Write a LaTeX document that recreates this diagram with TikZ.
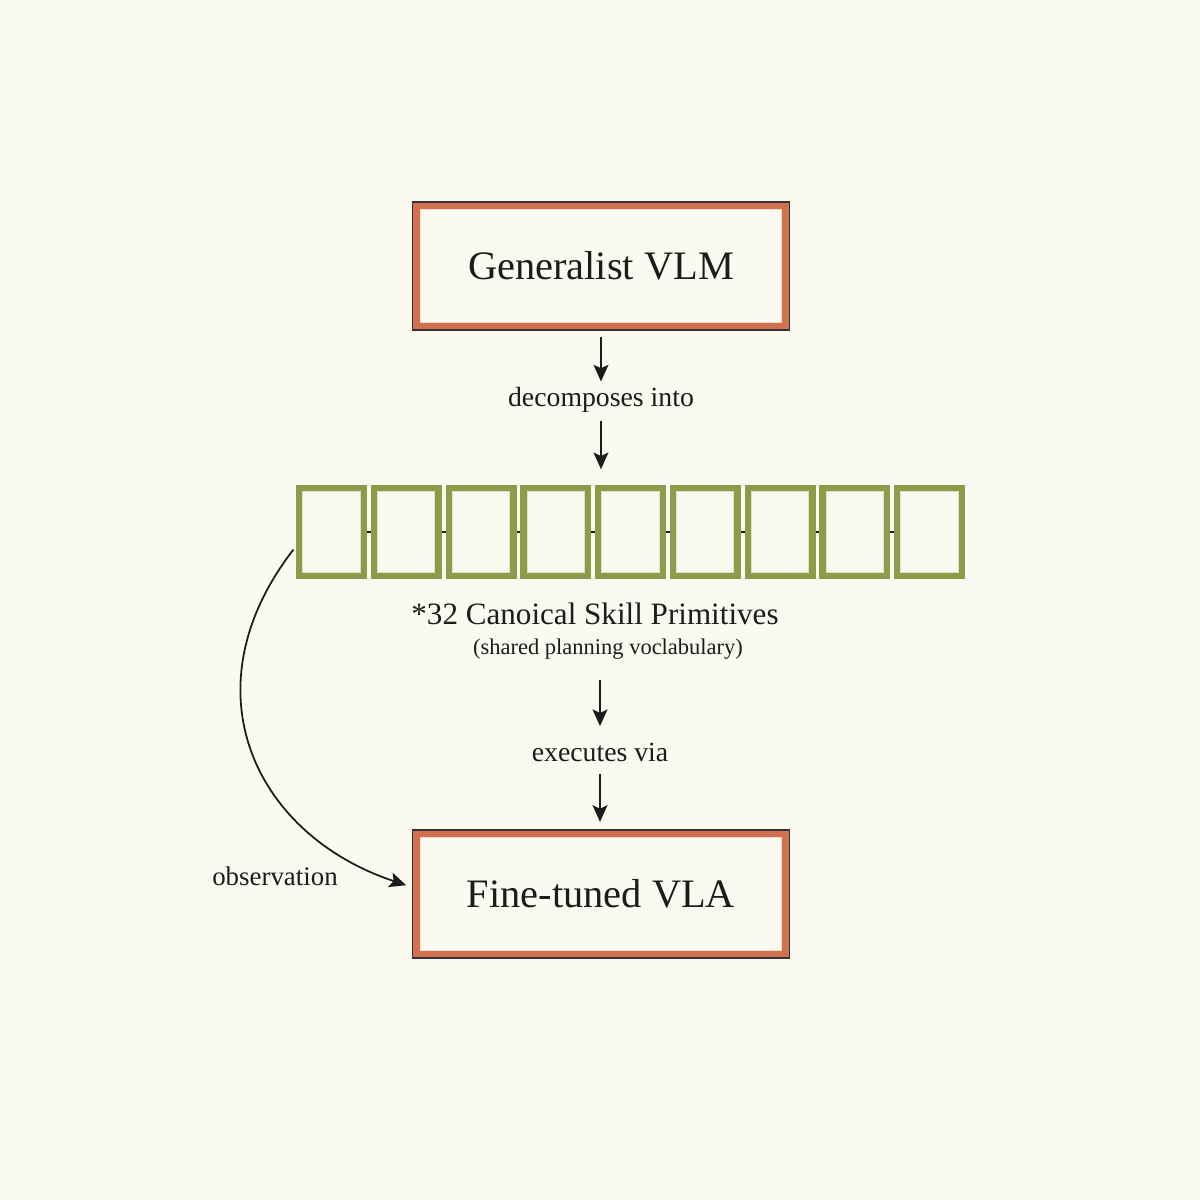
\documentclass[tikz,border=0pt]{standalone}
\usepackage{fontspec}
\setmainfont{Liberation Serif}
\usetikzlibrary{arrows.meta}
\definecolor{bgc}{HTML}{FBFAF0}
\definecolor{boxor}{HTML}{D2714F}
\definecolor{boxin}{HTML}{F3DCCF}
\definecolor{cellg}{HTML}{8E9B4A}
\definecolor{cellin}{HTML}{DDE3BE}
\definecolor{ink}{HTML}{1C1C1C}
\tikzset{
  bigbox/.style={draw=boxor, line width=3.8pt, fill=bgc, minimum width=7.38cm, minimum height=2.40cm, inner sep=0pt, font=\fontsize{23}{27}\selectfont, text=ink},
  outline/.style={draw=ink!90, line width=0.9pt},
  inline/.style={draw=boxin, line width=0.6pt},
  cell/.style={draw=cellg, line width=3.7pt, fill=bgc, minimum width=1.29cm, minimum height=1.75cm, inner sep=0pt},
  cellline/.style={draw=cellin, line width=0.5pt},
  link/.style={draw=ink, line width=1.6pt},
  lbl/.style={inner sep=0pt, text=ink, font=\fontsize{15.8}{19}\selectfont},
  arr/.style={draw=ink, line width=1pt, -{Stealth[length=9.5pt,width=8.5pt,inset=2pt]}},
}
\begin{document}
\begin{tikzpicture}[x=0.02cm, y=-0.02cm]
\fill[bgc] (0,0) rectangle (1200,1200);
\useasboundingbox (0,0) rectangle (1200,1200);

% main boxes
\node[bigbox] (vlm) at (601,266) {Generalist VLM};
\node[bigbox] (vla) at (601,894) {Fine-tuned VLA};
\foreach \b in {vlm,vla}{
  \draw[outline] ([shift={(-0.4pt,0.4pt)}]\b.north west) rectangle ([shift={(0.4pt,-0.4pt)}]\b.south east);
  \draw[inline] ([shift={(4pt,-4pt)}]\b.north west) rectangle ([shift={(-4pt,4pt)}]\b.south east);
}

% skill cells
\foreach \i in {1,...,9}{
  \node[cell] (c\i) at ({331.5+74.75*(\i-1)},532) {};
  \draw[cellline] ([shift={(3.9pt,-3.9pt)}]c\i.north west) rectangle ([shift={(-3.9pt,3.9pt)}]c\i.south east);
}
\foreach \i [evaluate=\i as \j using int(\i+1)] in {1,...,8}{
  \draw[link] (c\i.east) -- (c\j.west);
}

% labels
\node[lbl, anchor=base] (dec) at (601,406) {decomposes into};
\node[inner sep=0pt, text=ink, font=\fontsize{17.7}{21}\selectfont, anchor=base] (prim) at (595,624) {*32 Canoical Skill Primitives};
\node[inner sep=0pt, text=ink, font=\fontsize{12.8}{15}\selectfont, anchor=base] (voc) at (608,654) {(shared planning voclabulary)};
\node[lbl, anchor=base] (exe) at (600,761) {executes via};
\node[lbl, anchor=base, font=\fontsize{15.3}{18}\selectfont] (obs) at (275,885) {observation};

% arrows
\draw[arr, shorten <=4.6pt, shorten >=2.8pt] (vlm.south) -- (dec.north);
\draw[arr, shorten <=5pt, shorten >=9pt] (vlm.south |- dec.south) -- (vlm.south |- c1.north);
\draw[arr, shorten <=12pt, shorten >=9.2pt] (exe.north |- voc.south) -- (exe.north);
\draw[arr, shorten <=7pt, shorten >=5pt] (exe.south) -- (exe.south |- vla.north);

% observation curve
\coordinate (obsend) at ([shift={(-4pt,5pt)}]vla.west);
\draw[arr] ([shift={(-1.5pt,-10pt)}]c1.west) .. controls (185,690) and (255,835) .. (obsend);
\end{tikzpicture}
\end{document}
